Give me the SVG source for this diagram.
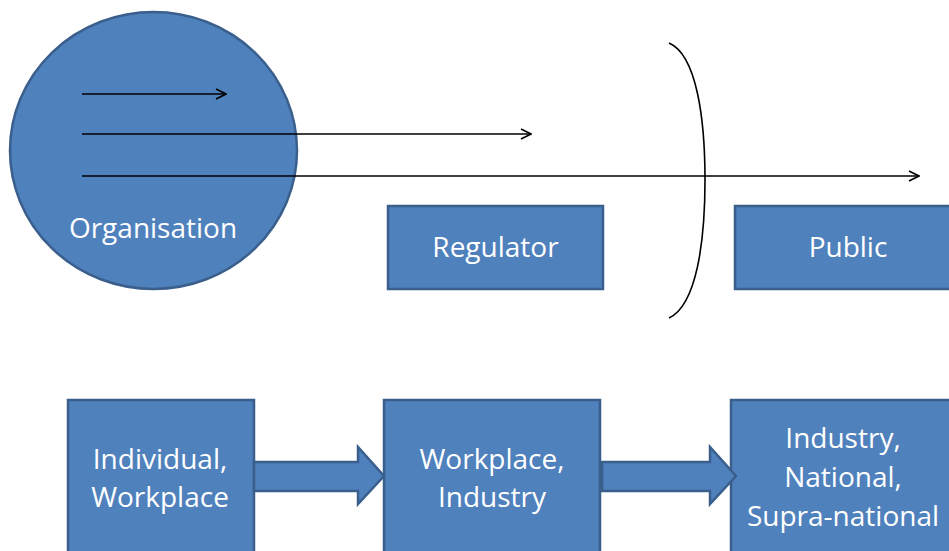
<svg xmlns="http://www.w3.org/2000/svg" width="949" height="551" viewBox="0 0 949 551">
<defs>
<style>
.n{fill:#4F81BD;stroke:#3A5F8C;stroke-width:2.5}
.t{fill:#fff;font-family:"Open Sans","Liberation Sans",sans-serif;font-size:28px;text-anchor:middle}
.l{fill:none;stroke:#000;stroke-width:1.6}
</style>
<marker id="ah" viewBox="0 0 12 12" refX="11" refY="6" markerWidth="12" markerHeight="12" markerUnits="userSpaceOnUse" orient="auto">
<path d="M1,1 L11,6 L1,11" fill="none" stroke="#000" stroke-width="1.6"/>
</marker>
</defs>
<rect width="949" height="551" fill="#fff"/>
<g id="organisation">
<ellipse class="n" cx="153.5" cy="150.5" rx="143.5" ry="138.5"/>
<text class="t" x="153" y="238">Organisation</text>
</g>
<g id="regulator">
<rect class="n" x="388" y="206" width="215" height="83"/>
<text class="t" x="495.5" y="257">Regulator</text>
</g>
<g id="public">
<rect class="n" x="735" y="206" width="225" height="83"/>
<text class="t" x="848" y="257">Public</text>
</g>
<g id="boundary">
<path class="l" d="M669,43 C697,55 705,120 705,180 C705,240 697,305 669,318"/>
</g>
<g id="individual">
<rect class="n" x="68" y="400" width="186" height="160"/>
<text class="t" x="160" y="469">Individual,</text>
<text class="t" x="160" y="507">Workplace</text>
</g>
<g id="workplace">
<rect class="n" x="384" y="400" width="216" height="160"/>
<text class="t" x="492" y="469">Workplace,</text>
<text class="t" x="492" y="507">Industry</text>
</g>
<g id="industry">
<rect class="n" x="731" y="400" width="229" height="160"/>
<text class="t" x="843" y="448">Industry,</text>
<text class="t" x="843" y="487">National,</text>
<text class="t" x="843" y="526">Supra-national</text>
</g>
<g id="connectors">
<line class="l" x1="82" y1="94" x2="226" y2="94" marker-end="url(#ah)"/>
<line class="l" x1="82" y1="134" x2="531" y2="134" marker-end="url(#ah)"/>
<line class="l" x1="82" y1="176" x2="919" y2="176" marker-end="url(#ah)"/>
<path class="n" d="M254,462 H358 V447 L384,476 L358,504 V491 H254 Z"/>
<path class="n" d="M602,462 H710 V447 L736,476 L710,504 V491 H602 Z"/>
</g>
</svg>
